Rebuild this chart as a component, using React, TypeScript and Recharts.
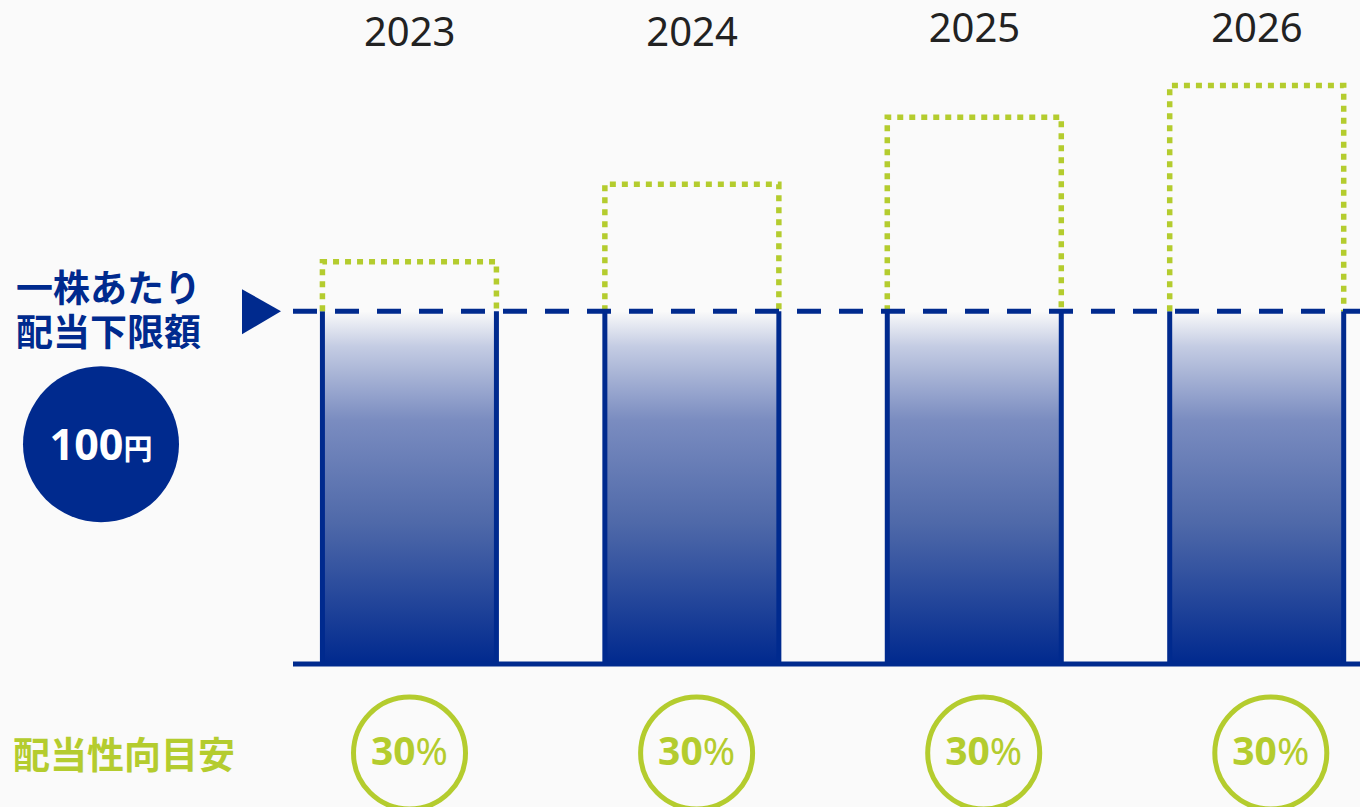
import { ComposedChart, Bar, XAxis, YAxis, ReferenceLine } from "recharts";

const years = ["2023", "2024", "2025", "2026"];
const floorValues = [100, 100, 100, 100];
const targetValues = [114, 136, 155, 164];
const payoutRatios = [30, 30, 30, 30];
const floorLabel = ["一株あたり", "配当下限額"];
const floorAmount = "100";
const ratioLabel = "配当性向目安";

const BLUE = "#002a8e";
const GREEN = "#b4cc2e";
const JP = "'Noto Sans CJK JP', 'Noto Sans', sans-serif";
const LATIN = "'Noto Sans', 'Noto Sans CJK JP', sans-serif";

const data = years.map((year, i) => ({
  x: i,
  year,
  floor: floorValues[i],
  extra: targetValues[i] - floorValues[i],
}));

const FloorShape = (props: any) => {
  const { x, y, width, height } = props;
  return (
    <g>
      <rect x={x} y={y} width={width} height={height} fill="url(#floorGrad)" />
      <line x1={x} y1={y} x2={x} y2={y + height} stroke={BLUE} strokeWidth={5} />
      <line x1={x + width} y1={y} x2={x + width} y2={y + height} stroke={BLUE} strokeWidth={5} />
    </g>
  );
};

const TargetShape = (props: any) => {
  const { x, y, width, height } = props;
  return (
    <path
      d={`M${x},${y + height} V${y} H${x + width} V${y + height}`}
      fill="none"
      stroke={GREEN}
      strokeWidth={5.5}
      strokeDasharray="6 6"
    />
  );
};

const YearTick = (props: any) => {
  const { x, y, payload } = props;
  // the later two labels sit a few px higher in the original
  const lift = payload.value >= 2 ? 4 : 0;
  return (
    <text x={x} y={y + 17 - lift} textAnchor="middle" fontFamily={LATIN} fontSize={40} fill="#222">
      {years[payload.value]}
    </text>
  );
};

const RatioTick = (props: any) => {
  const { x, y, payload } = props;
  return (
    <g>
      <circle cx={x} cy={y + 89} r={56} fill="none" stroke={GREEN} strokeWidth={5} />
      <text x={x} y={y + 101} textAnchor="middle" fontFamily={LATIN} fontSize={39} fill={GREEN}>
        <tspan fontWeight="bold">{payoutRatios[payload.value]}</tspan>
        <tspan>%</tspan>
      </text>
    </g>
  );
};

const FloorNote = (props: any) => {
  const vb = props.viewBox || {};
  const x = vb.x;
  const y = vb.y;
  if (x == null || y == null) return null;
  return (
    <g>
      <polygon points={`${x - 51},${y - 22} ${x - 51},${y + 23} ${x - 12},${y}`} fill={BLUE} />
      <text x={x - 277} y={y - 9} fontFamily={JP} fontWeight="bold" fontSize={37} fill={BLUE}>
        <tspan x={x - 277}>{floorLabel[0]}</tspan>
        <tspan x={x - 277} dy={44}>{floorLabel[1]}</tspan>
      </text>
      <circle cx={x - 192} cy={y + 133} r={78} fill={BLUE} />
      <text x={x - 192} y={y + 149} textAnchor="middle" fontFamily={LATIN} fontWeight="bold" fill="#fff">
        <tspan fontSize={43}>{floorAmount}</tspan>
        <tspan fontSize={29} fontFamily={JP}>円</tspan>
      </text>
    </g>
  );
};

const RatioNote = (props: any) => {
  const vb = props.viewBox || {};
  if (vb.x == null || vb.y == null) return null;
  return (
    <text x={vb.x - 280} y={vb.y + 105} fontFamily={JP} fontWeight="bold" fontSize={37} fill={GREEN}>
      {ratioLabel}
    </text>
  );
};

export default function App() {
  return (
    <div
      style={{
        position: "absolute",
        left: 0,
        top: 0,
        width: 1360,
        height: 807,
        background: "#fafafa",
        overflow: "hidden",
      }}
    >
      <ComposedChart
        width={1360}
        height={807}
        data={data}
        margin={{ top: 0, right: 0, left: 293, bottom: 0 }}
      >
        <defs>
          <linearGradient id="floorGrad" x1="0" y1="0" x2="0" y2="1">
            <stop offset="0" stopColor="#fafafa" />
            <stop offset="0.1" stopColor="#c4cce3" />
            <stop offset="0.31" stopColor="#7a8cc0" />
            <stop offset="0.6" stopColor="#4f69a9" />
            <stop offset="1" stopColor="#00298e" />
          </linearGradient>
        </defs>

        {/* years on top, bars hang off this axis */}
        <XAxis
          xAxisId="years"
          dataKey="x"
          type="number"
          orientation="top"
          domain={[-0.413, 3.365]}
          allowDataOverflow
          ticks={[0, 1, 2, 3]}
          interval={0}
          height={29}
          axisLine={false}
          tickLine={false}
          tickSize={0}
          tickMargin={0}
          tick={<YearTick />}
        />

        {/* baseline + payout ratio circles */}
        <XAxis
          xAxisId="ratio"
          dataKey="x"
          type="number"
          domain={[-0.4058, 3.3107]}
          allowDataOverflow
          ticks={[0, 1, 2, 3]}
          interval={0}
          height={143}
          axisLine={{ stroke: BLUE, strokeWidth: 5 }}
          tickLine={false}
          tickSize={0}
          tickMargin={0}
          tick={<RatioTick />}
          label={<RatioNote />}
        />

        <YAxis hide domain={[0, 180]} allowDataOverflow />

        <Bar
          xAxisId="years"
          dataKey="floor"
          stackId="s"
          barSize={174}
          shape={<FloorShape />}
          isAnimationActive={false}
        />
        <Bar
          xAxisId="years"
          dataKey="extra"
          stackId="s"
          barSize={174}
          shape={<TargetShape />}
          isAnimationActive={false}
        />

        <ReferenceLine
          xAxisId="years"
          y={100}
          stroke={BLUE}
          strokeWidth={5}
          strokeDasharray="24 18"
          label={<FloorNote />}
        />
      </ComposedChart>
    </div>
  );
}
